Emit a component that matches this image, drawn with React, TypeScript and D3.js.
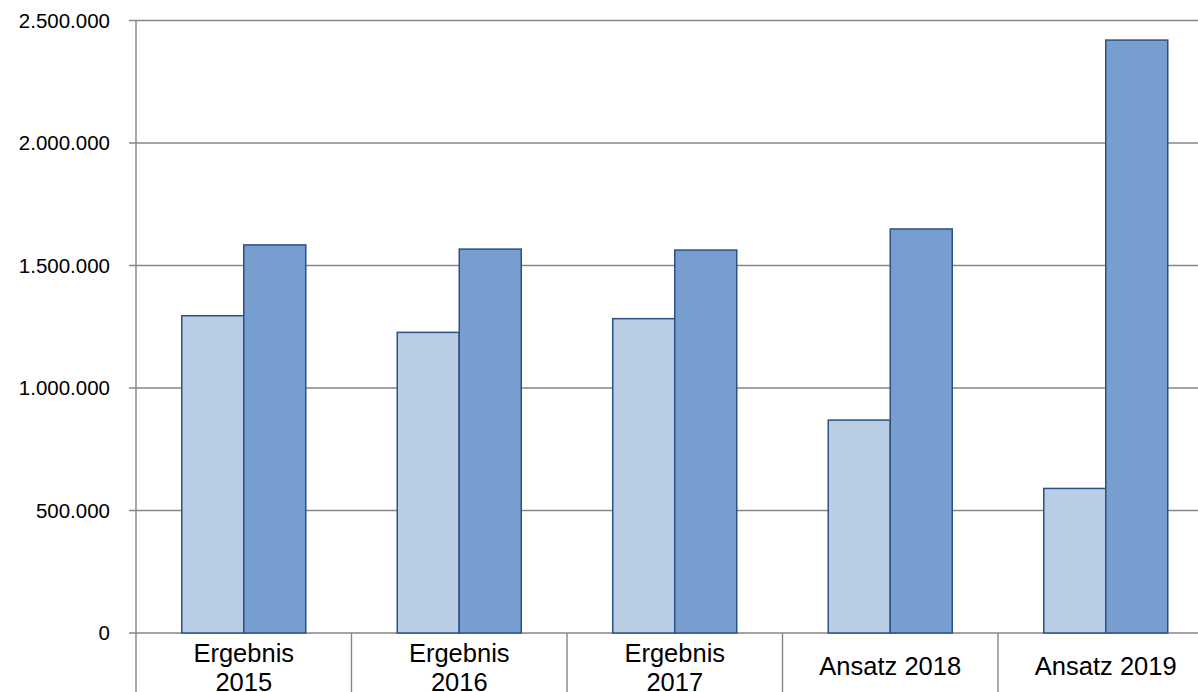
import React from "react";
import * as d3 from "d3";

const categories = [["Ergebnis", "2015"], ["Ergebnis", "2016"], ["Ergebnis", "2017"], ["Ansatz 2018"], ["Ansatz 2019"]];
const seriesLight = [1295000, 1227000, 1283000, 869000, 590000];
const seriesDark = [1584000, 1567000, 1563000, 1649000, 2420000];
const yTicks = [0, 500000, 1000000, 1500000, 2000000, 2500000];

const W = 1198, H = 692;
const left = 136, catW = 215.5, top = 20.5, bottom = 633;

export default function App() {
  const keys = categories.map((_, i) => String(i));
  const x = d3.scaleBand<string>().domain(keys).range([left, left + catW * keys.length])
    .paddingInner(1 - 124 / catW).paddingOuter((1 - 124 / catW) / 2);
  const xs = d3.scaleBand<string>().domain(["a", "b"]).range([0, x.bandwidth()]).padding(0);
  const y = d3.scaleLinear().domain([0, 2500000]).range([bottom, top]);
  const fmt = (v: number) => d3.format(",")(v).replace(/,/g, ".");
  const grid = "#868686";
  const stroke = "#2b5185";
  return (
    <svg width={W} height={H} style={{ position: "absolute", left: 0, top: 0, background: "#fff" }}
      fontFamily="'Liberation Sans', Arial, sans-serif">
      {yTicks.map((t) => (
        <g key={t}>
          <line x1={129} x2={W + 30} y1={y(t)} y2={y(t)} stroke={grid} strokeWidth={1.4} />
          <text x={110} y={y(t) + 7} textAnchor="end" fontSize={20.5} fill="#000">{fmt(t)}</text>
        </g>
      ))}
      <line x1={left} x2={left} y1={top} y2={H} stroke={grid} strokeWidth={1.4} />
      {keys.map((k, i) => (
        <line key={"d" + k} x1={left + catW * (i + 1)} x2={left + catW * (i + 1)} y1={bottom} y2={H} stroke={grid} strokeWidth={1.4} />
      ))}
      {keys.map((k, i) => (
        <g key={"b" + k}>
          <rect x={(x(k) as number) + (xs("a") as number)} y={y(seriesLight[i])} width={xs.bandwidth()} height={y(0) - y(seriesLight[i])}
            fill="#b9cde5" stroke={stroke} strokeWidth={1.5} />
          <rect x={(x(k) as number) + (xs("b") as number)} y={y(seriesDark[i])} width={xs.bandwidth()} height={y(0) - y(seriesDark[i])}
            fill="#779ecf" stroke={stroke} strokeWidth={1.5} />
        </g>
      ))}
      {categories.map((lines, i) => {
        const cx = (x(keys[i]) as number) + x.bandwidth() / 2;
        const base = lines.length === 1 ? 674.5 : 661.5;
        return (
          <text key={"t" + i} x={cx} textAnchor="middle" fontSize={25.5} fill="#000">
            {lines.map((l, j) => (
              <tspan key={j} x={cx} y={base + j * 29.5}>{l}</tspan>
            ))}
          </text>
        );
      })}
    </svg>
  );
}
